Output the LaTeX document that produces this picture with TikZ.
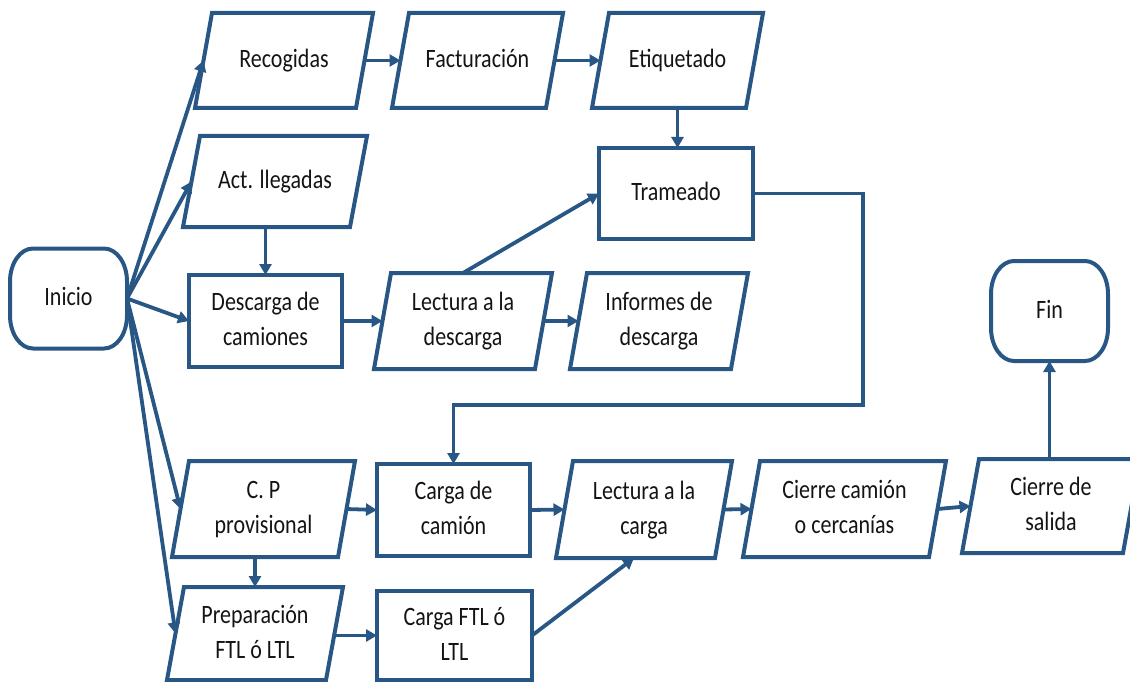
\documentclass[tikz,border=0pt]{standalone}
\usepackage{fontspec}
\setmainfont{Carlito}[FakeStretch=0.83]
\usetikzlibrary{arrows.meta,calc}
\definecolor{main}{RGB}{41,87,133}
\definecolor{txt}{RGB}{20,20,20}
\newcommand\lblfont{\fontsize{26.5pt}{35pt}\selectfont}
\newcommand\lift[1]{\raisebox{-2.5pt}{\begin{tabular}{@{}c@{}}#1\end{tabular}}}
\newcommand\drawpara[1]{\draw[outl] ([xshift=8.5pt]#1.north west) -- ([xshift=8.5pt]#1.north east) -- ([xshift=-8.5pt]#1.south east) -- ([xshift=-8.5pt]#1.south west) -- cycle;}
\newcommand\drawterm[1]{\draw[outl] ([xshift=23pt]#1.north west) -- ([xshift=-23pt]#1.north east)
 arc[start angle=90,end angle=0,x radius=23pt,y radius=33pt]
 -- ([yshift=33pt]#1.south east)
 arc[start angle=0,end angle=-90,x radius=23pt,y radius=33pt]
 -- ([xshift=23pt]#1.south west)
 arc[start angle=270,end angle=180,x radius=23pt,y radius=33pt]
 -- ([yshift=-33pt]#1.north west)
 arc[start angle=180,end angle=90,x radius=23pt,y radius=33pt] -- cycle;}
\tikzset{
 outl/.style={draw=main, line width=4pt, line join=miter},
 lbl/.style={draw=none, align=center, font=\lblfont, text=txt, inner sep=0pt, outer sep=0pt},
 rbox/.style={lbl, draw=main, line width=4pt},
 conn/.style={draw=main, line width=3.8pt, -{Triangle[length=11pt,width=12pt]}},
}
\begin{document}
\begin{tikzpicture}[x=1pt,y=-1pt]
\useasboundingbox (0,0) rectangle (1130,682);
\clip (0,0) rectangle (1130,682);
% terminators
\node[lbl, minimum width=117pt, minimum height=100pt] (inicio) at (68.5,298.5) {\lift{Inicio}};
\node[lbl, minimum width=117pt, minimum height=100pt] (fin) at (1049.5,311) {\lift{Fin}};
% parallelograms (width = mid width)
\node[lbl, minimum width=161pt, minimum height=95pt] (recog) at (284,60.5) {\lift{Recogidas}};
\node[lbl, minimum width=154pt, minimum height=95pt] (factu) at (477.5,60.5) {\lift{Facturación}};
\node[lbl, minimum width=154pt, minimum height=95pt] (etiq) at (677.5,60.5) {\lift{Etiquetado}};
\node[lbl, minimum width=167pt, minimum height=91pt] (act) at (275,181.5) {\lift{Act. llegadas}};
\node[lbl, minimum width=161pt, minimum height=96pt] (lecdesc) at (463,321) {\lift{Lectura a la\\descarga}};
\node[lbl, minimum width=161pt, minimum height=96pt] (inform) at (659,321) {\lift{Informes de\\descarga}};
\node[lbl, minimum width=166pt, minimum height=96pt] (cp) at (263.5,509) {\lift{C. P\\provisional}};
\node[lbl, minimum width=159pt, minimum height=97pt] (leccarga) at (644,509.5) {\lift{Lectura a la\\carga}};
\node[lbl, minimum width=186pt, minimum height=96pt] (cierrecam) at (844.5,509) {\lift{Cierre camión\\o cercanías}};
\node[lbl, minimum width=161pt, minimum height=94pt] (cierresal) at (1051,506) {\lift{Cierre de\\salida}};
\node[lbl, minimum width=159pt, minimum height=93pt] (prep) at (255,633.5) {\lift{Preparación\\FTL ó LTL}};
% rectangles
\node[rbox, minimum width=154pt, minimum height=91pt] (tram) at (676,193.5) {\lift{Trameado}};
\node[rbox, minimum width=153pt, minimum height=92pt] (desc) at (265.5,321) {\lift{Descarga de\\camiones}};
\node[rbox, minimum width=153pt, minimum height=92pt] (cargacam) at (453.5,510) {\lift{Carga de\\camión}};
\node[rbox, minimum width=155pt, minimum height=89pt] (cargaftl) at (454.5,635.5) {\lift{Carga FTL ó\\LTL}};
% outlines
\drawterm{inicio}
\drawterm{fin}
\foreach \n in {recog,factu,etiq,act,lecdesc,inform,cp,leccarga,cierrecam,cierresal,prep}{\drawpara{\n}}
% connectors
\draw[conn] (inicio.east) -- (recog.west);
\draw[conn] (inicio.east) -- (act.west);
\draw[conn] (inicio.east) -- (desc.west);
\draw[conn] (inicio.east) -- (cp.west);
\draw[conn] (inicio.east) -- (prep.west);
\draw[conn] (recog.east) -- (factu.west);
\draw[conn] (factu.east) -- (etiq.west);
\draw[conn] (etiq.south) -- (etiq.south |- tram.north);
\draw[conn] (desc.north |- act.south) -- (desc.north);
\draw[conn] (desc.east) -- (lecdesc.west);
\draw[conn] (lecdesc.east) -- (inform.west);
\draw[conn] (lecdesc.north) -- (tram.west);
\coordinate (turn) at (863,405);
\draw[conn] (tram.east) -| (turn) -| (cargacam.north);
\draw[conn] (cp.east) -- (cargacam.west);
\draw[conn] (prep.north |- cp.south) -- (prep.north);
\draw[conn] (prep.east |- cargaftl.west) -- (cargaftl.west);
\draw[conn] (cargacam.east) -- (leccarga.west);
\draw[conn] (cargaftl.east) -- ([xshift=-10pt]leccarga.south);
\draw[conn] (leccarga.east) -- (cierrecam.west);
\draw[conn] (cierrecam.east) -- (cierresal.west);
\draw[conn] (fin.south |- cierresal.north) -- (fin.south);
\end{tikzpicture}
\end{document}
